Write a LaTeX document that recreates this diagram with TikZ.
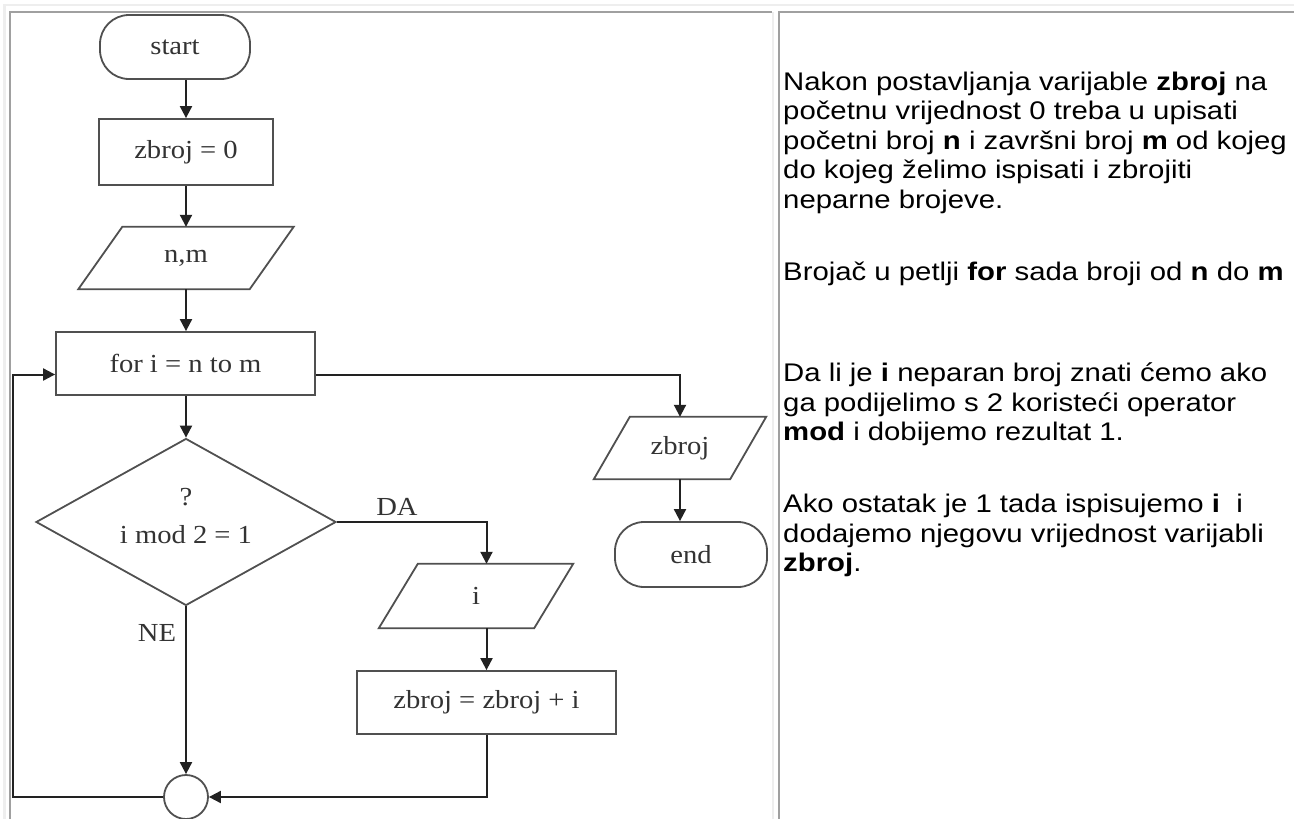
\documentclass[tikz,border=0pt]{standalone}
\usepackage{fontspec}
\setmainfont{Liberation Serif}[FakeStretch=1.1]
\newfontfamily\notefont{Liberation Sans}[FakeStretch=1.15]
\usetikzlibrary{arrows.meta,shapes.geometric}

\definecolor{cellgray}{HTML}{A0A0A0}
\definecolor{cellpale}{HTML}{EEEEEE}
\definecolor{shapeink}{HTML}{505050}
\definecolor{flowink}{HTML}{222222}
\definecolor{labelink}{HTML}{333333}

% slanted input/output frame drawn round a plain node
\newcommand\ioframe[2]{\draw[edgeline] (#1.south west) -- ([xshift=-#2]#1.south east) -- (#1.north east) -- ([xshift=#2]#1.north west) -- cycle;}

\begin{document}
\begin{tikzpicture}[x=1pt,y=-1pt,
  chartfont/.style={font=\fontsize{26}{30}\selectfont, text=labelink},
  edgeline/.style={draw=shapeink, line width=1.8pt},
  terminal/.style={edgeline, chartfont, rectangle, rounded corners=29pt, inner sep=0pt},
  process/.style={edgeline, chartfont, rectangle, inner sep=0pt},
  iobox/.style={chartfont, rectangle, inner sep=0pt},
  decision/.style={edgeline, diamond, inner sep=0pt, minimum width=300pt, minimum height=167pt},
  joinpt/.style={edgeline, circle, minimum size=44pt, inner sep=0pt},
  flow/.style={draw=flowink, line width=2pt, -{Triangle[length=12pt,width=12pt]}},
  note/.style={font=\notefont\fontsize{25.5}{29.5}\selectfont, anchor=base west, inner sep=0pt},
]
\useasboundingbox (0,0) rectangle (1294,819);
\fill[white] (0,0) rectangle (1294,819);

% table frame
\draw[cellpale, line width=2.5pt] (4.5,819) -- (4.5,5) -- (1294,5);
\draw[cellgray, line width=2pt] (10,819) -- (10,12) -- (772,12);
\draw[cellpale, line width=2pt] (773,12) -- (773,819);
\draw[cellgray, line width=2pt] (779,819) -- (779,12) -- (1294,12);

% flowchart
\node[terminal, minimum width=150pt, minimum height=64pt] (start) at (175,47) {start};
\node[process, minimum width=174pt, minimum height=66pt] (zero) at (186,152) {zbroj = 0};
\node[iobox, minimum width=215pt, minimum height=62pt] (input) at (186,258) {n,m};
\node[process, minimum width=259pt, minimum height=63pt] (loop) at (185.5,363.5) {for i = n to m};
\node[decision] (test) at (186,522) {};
\node[chartfont] (qmark) at (186,497) {?};
\node[chartfont] (cond) at (186,535) {i mod 2 = 1};
\node[joinpt] (merge) at (186,797) {};
\node[iobox, minimum width=194pt, minimum height=64pt] (show) at (476,596) {i};
\node[process, minimum width=259pt, minimum height=63pt] (add) at (486.5,702.5) {zbroj = zbroj + i};
\node[iobox, minimum width=172pt, minimum height=62pt] (result) at (680,448) {zbroj};
\node[terminal, minimum width=152pt, minimum height=65pt] (stop) at (691,554.5) {end};
\node[chartfont] (yes) at (397,507) {DA};
\node[chartfont] (no) at (157,633) {NE};

\ioframe{input}{44pt}
\ioframe{show}{39pt}
\ioframe{result}{36pt}

\coordinate (back) at (13,797);

\draw[flow] (start.south -| zero.north) -- (zero.north);
\draw[flow] (zero.south) -- (input.north);
\draw[flow] (input.south) -- (input.south |- loop.north);
\draw[flow] (loop.south -| test.north) -- (test.north);
\draw[flow] (test.south) -- (merge.north);
\draw[flow] (test.east) -| (show.north -| add.north);
\draw[flow] (show.south -| add.north) -- (add.north);
\draw[flow] (add.south) |- (merge.east);
\draw[flow] ([yshift=-11pt]loop.east) -| (result.north);
\draw[flow] (result.south) -- (result.south |- stop.north);
\draw[flow] (merge.west) -- (back) |- ([yshift=-11pt]loop.west);

% explanation column
\node[note] (n1) at (783,90) {Nakon postavljanja varijable \textbf{zbroj} na};
\node[note] (n2) at (783,119.5) {početnu vrijednost 0 treba u upisati};
\node[note] (n3) at (783,149) {početni broj \textbf{n} i završni broj \textbf{m} od kojeg};
\node[note] (n4) at (783,178.5) {do kojeg želimo ispisati i zbrojiti};
\node[note] (n5) at (783,208) {neparne brojeve.};
\node[note] (n6) at (783,280) {Brojač u petlji \textbf{for} sada broji od \textbf{n} do \textbf{m}};
\node[note] (n7) at (783,381.5) {Da li je \textbf{i} neparan broj znati ćemo ako};
\node[note] (n8) at (783,411) {ga podijelimo s 2 koristeći operator};
\node[note] (n9) at (783,440.5) {\textbf{mod} i dobijemo rezultat 1.};
\node[note] (n10) at (783,512.5) {Ako ostatak je 1 tada ispisujemo \textbf{i}\ \ i};
\node[note] (n11) at (783,542) {dodajemo njegovu vrijednost varijabli};
\node[note] (n12) at (783,571.5) {\textbf{zbroj}.};
\end{tikzpicture}
\end{document}
